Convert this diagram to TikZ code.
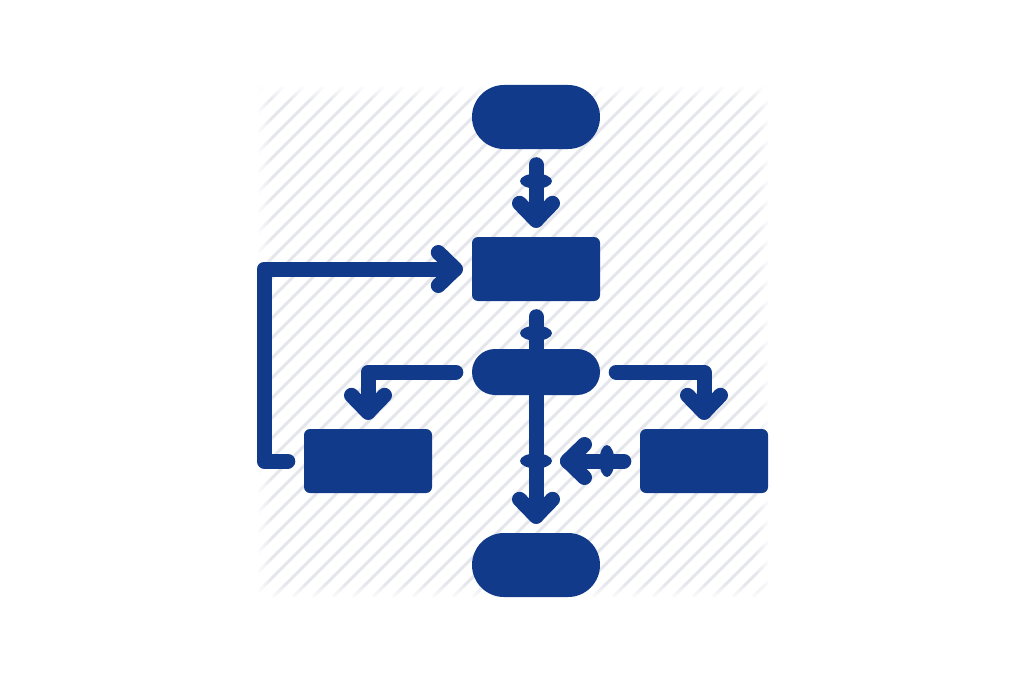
\documentclass[tikz,border=0pt]{standalone}
\usetikzlibrary{shapes.geometric,decorations.markings,fadings}
\definecolor{flowblue}{RGB}{18,58,138}
\definecolor{hatchgray}{RGB}{228,230,236}
\begin{document}
\begin{tikzpicture}[x=1pt, y=-1pt,
  terminal/.style={fill=flowblue, inner sep=0pt, minimum width=128pt, minimum height=64pt, rounded corners=32pt},
  process/.style={fill=flowblue, inner sep=0pt, minimum width=128pt, minimum height=64pt, rounded corners=6pt},
  decision/.style={fill=flowblue, inner sep=0pt, minimum width=128pt, minimum height=46pt, rounded corners=23pt},
  link/.style={draw=flowblue, line width=15pt, line cap=round, line join=round},
  arrowhead/.style={postaction={decorate}, decoration={markings,
    mark=at position 1 with {\draw[link] (-17,-16.5) -- (0,0) -- (-17,16.5);}}},
  joint/.style={ellipse, fill=flowblue, inner sep=0pt, minimum width=15pt, minimum height=32pt, sloped}]
\useasboundingbox (0,0) rectangle (1024,682);

% hatched background, soft edges
\begin{scope}
\clip (258,87) rectangle (768,597);
\foreach \c in {350,370,...,1370}
  \draw[hatchgray, line width=3pt] (\c-597,597) -- (\c-87,87);
\end{scope}
\fill[white, path fading=east] (256,85) rectangle (272,599);
\fill[white, path fading=west] (754,85) rectangle (770,599);
\fill[white, path fading=south] (256,85) rectangle (770,101);
\fill[white, path fading=north] (256,583) rectangle (770,599);

\node[terminal] (start) at (536,117) {};
\node[process] (check) at (536,269) {};
\node[decision] (choice) at (536,372) {};
\node[process] (boxleft) at (368,461) {};
\node[process] (boxright) at (704,461) {};
\node[terminal] (stop) at (536,565) {};
\coordinate (loop) at (264,461);
\coordinate (merge) at (536,461);

\draw[link, arrowhead] ([yshift=-15.5pt]start.south) -- node[joint, pos=0.295] {} ([yshift=16.5pt]check.north);
\draw[link, arrowhead] ([yshift=-15.5pt]check.south) -- node[joint, pos=0.0825] {} node[joint, pos=0.7225] {} ([yshift=16.5pt]stop.north);
\draw[link, arrowhead] ([xshift=-16pt]choice.west) -| ([yshift=16.5pt]boxleft.north);
\draw[link, arrowhead] ([xshift=16pt]choice.east) -| ([yshift=16.5pt]boxright.north);
\draw[link, arrowhead] ([xshift=-16pt]boxleft.west) -- (loop) |- ([xshift=-16.5pt]check.west);
\draw[link, arrowhead] ([xshift=-16pt]boxright.west) -- node[joint, pos=0.3] {} ([xshift=31.5pt]merge);
\end{tikzpicture}
\end{document}
